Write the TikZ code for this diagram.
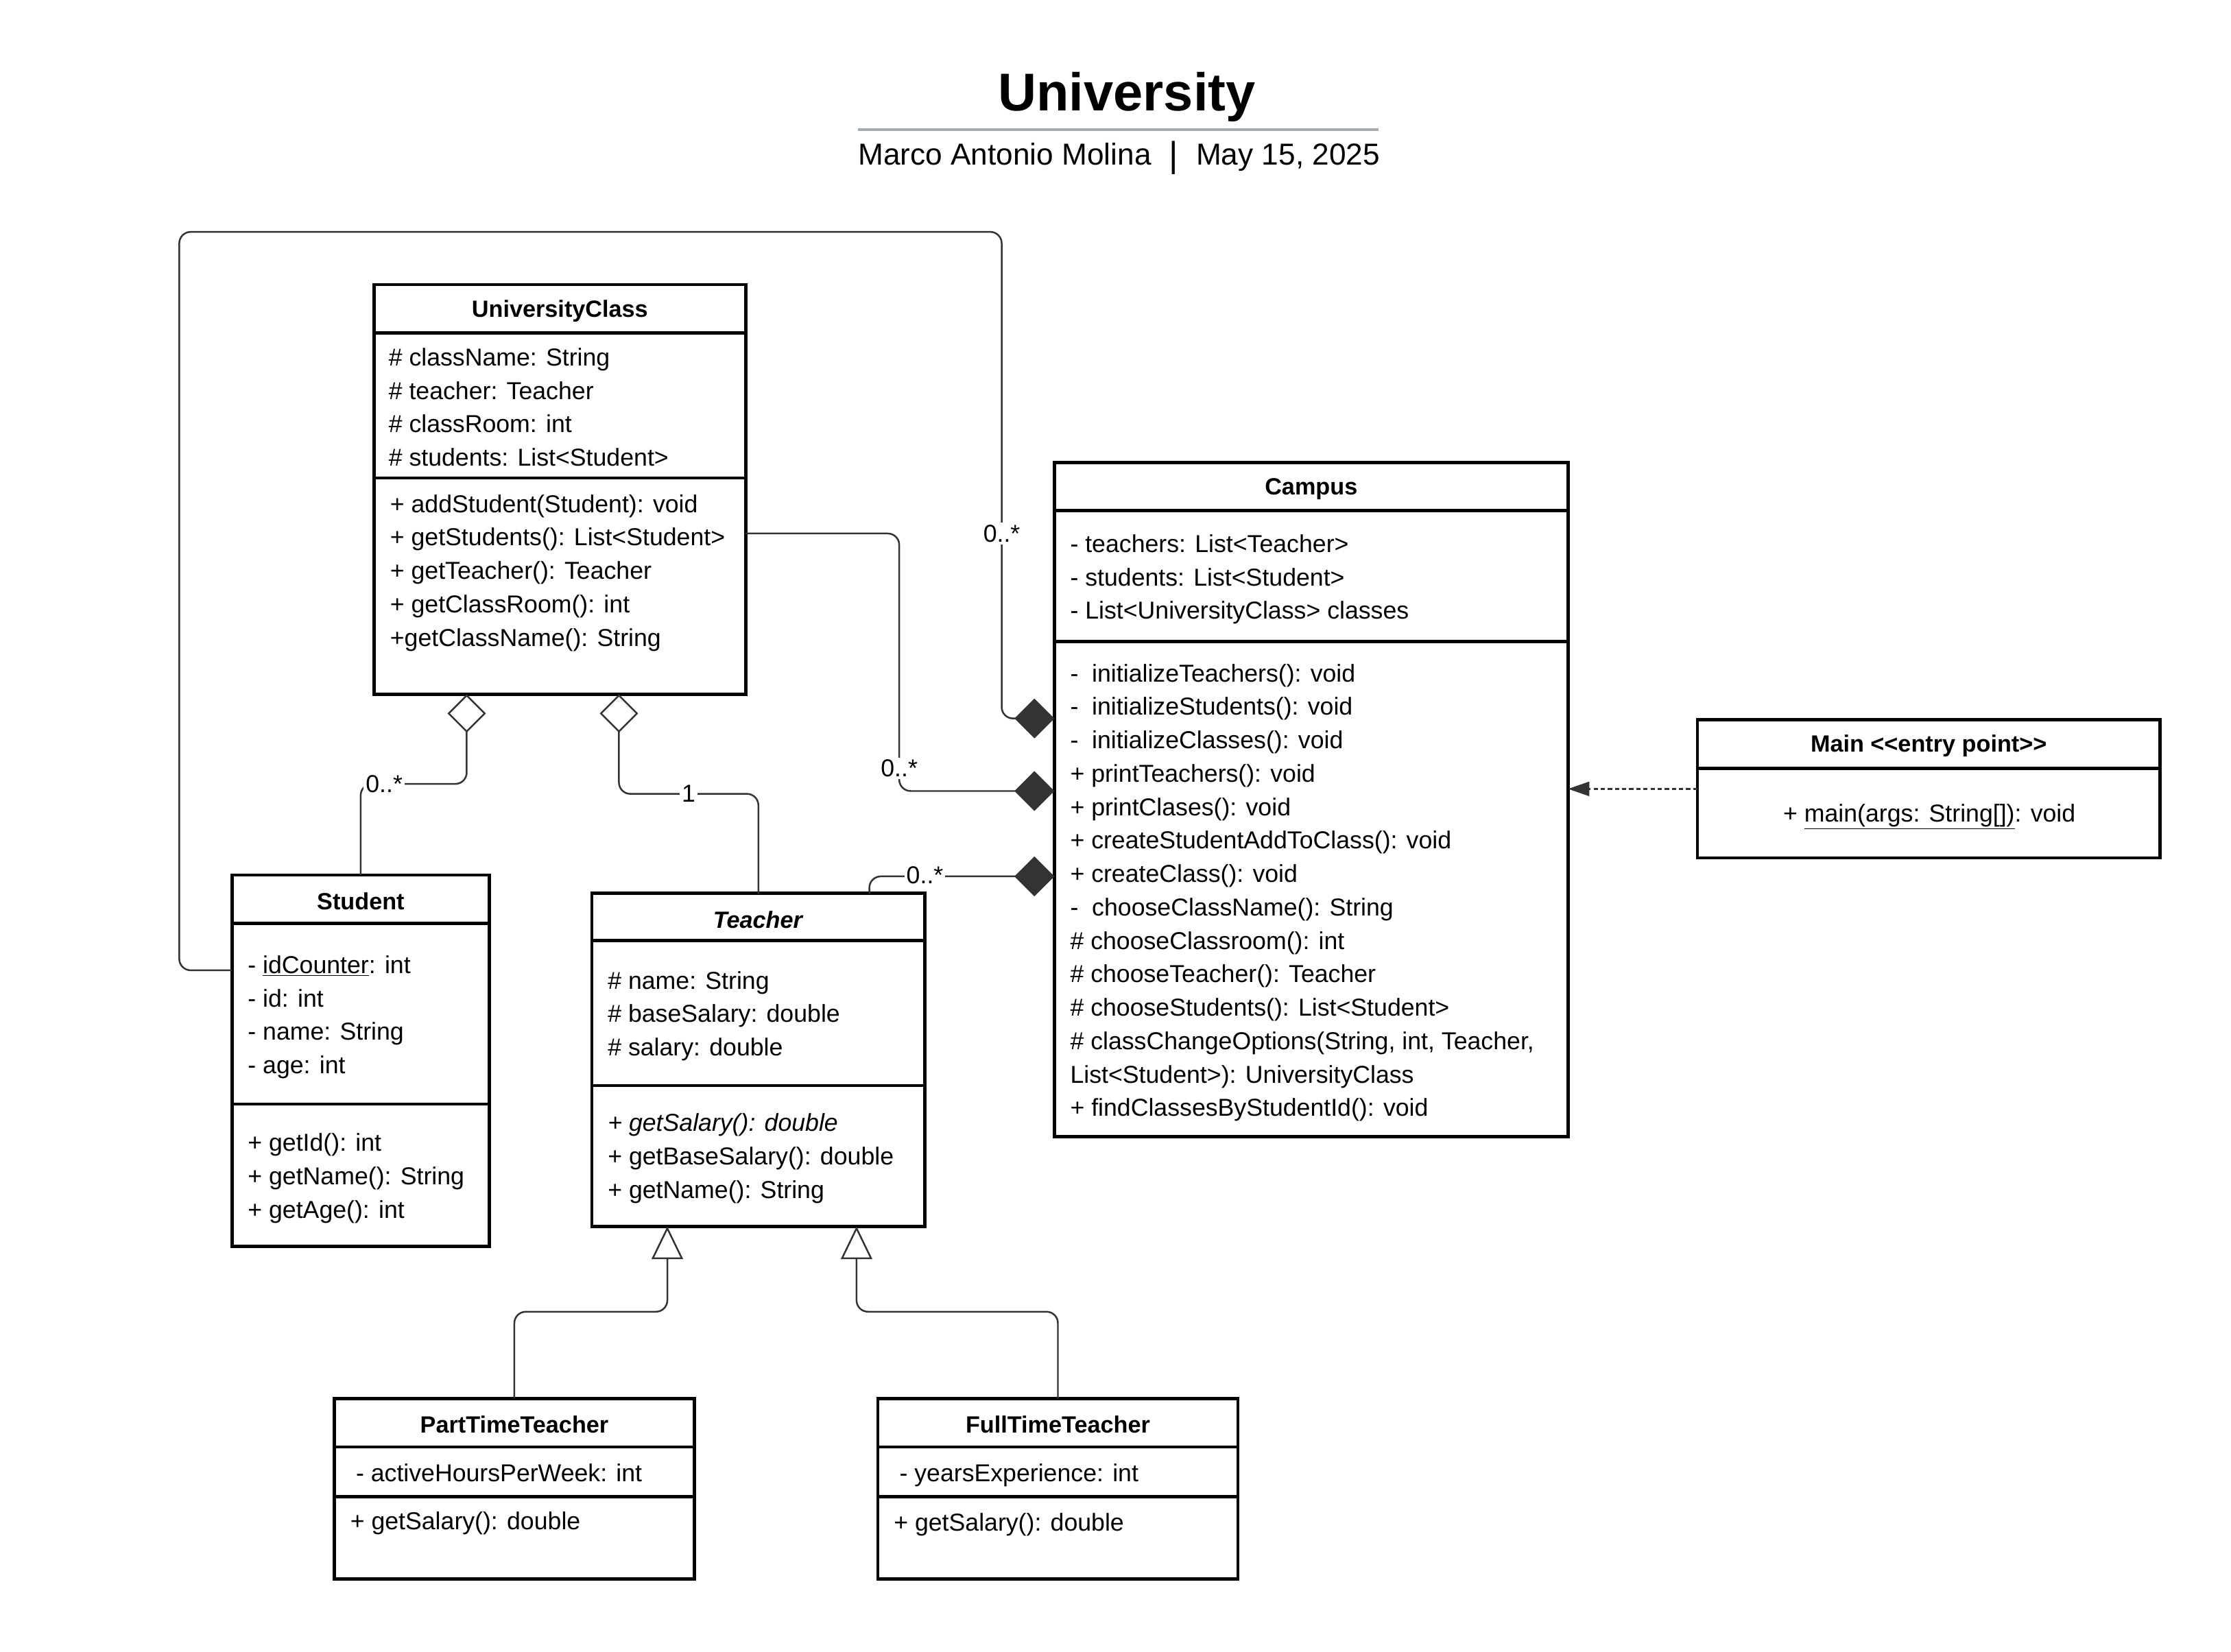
\documentclass[tikz,border=0pt]{standalone}
\usepackage{fontspec}
\setmainfont{Liberation Sans}
\usetikzlibrary{arrows.meta}
\definecolor{linegray}{HTML}{333333}
\definecolor{rulegray}{HTML}{A7ABB2}
\newcommand{\umltext}{\fontsize{17.2}{23.5}\selectfont}
\newcommand{\umlhead}{\fontsize{16.5}{20}\selectfont\bfseries}

\begin{document}
\begin{tikzpicture}[x=1pt, y=-1pt,
  cls/.style={draw, line width=2.3pt, anchor=north west, inner sep=0pt, outer sep=0pt},
  sep/.style={line width=2.3pt},
  hd/.style={font=\umlhead},
  mem/.style={font=\umltext, align=left, anchor=north west, inner sep=0pt},
  mult/.style={font=\umltext, fill=white, inner sep=1.5pt},
  conn/.style={line width=1.2pt, draw=linegray, rounded corners=8pt},
  comp/.style={conn, -{Diamond[linegray, length=28pt, width=28pt]}},
  aggr/.style={conn, -{Diamond[open, length=27pt, width=27pt]}},
  gen/.style={conn, -{Triangle[open, length=23pt, width=22pt]}},
  dep/.style={line width=1.2pt, draw=linegray, dash pattern=on 3pt off 2pt,
    -{Triangle[length=15pt, width=10pt]}}
]
  \path[use as bounding box, fill=white] (0,0) rectangle (1568,1161);

  % title
  \node[font=\fontsize{37.4}{44}\selectfont\bfseries] (ttl) at (792,68) {University};
  \draw[rulegray, line width=2pt] (603,91) -- (969,91);
  \node[font=\fontsize{21.3}{26}\selectfont] (sub) at (786.5,111)
    {Marco Antonio Molina\hspace{12.5pt}\raisebox{-1.5pt}{\fontsize{25}{26}\selectfont|}\hspace{12.5pt}May 15, 2025};

  % UniversityClass
  \node[cls, minimum width=261pt, minimum height=288pt] (uc) at (263,200) {};
  \draw[sep] (uc.west |- 0,234) -- (uc.east |- 0,234);
  \draw[sep] (uc.west |- 0,336) -- (uc.east |- 0,336);
  \node[hd] (ucH) at (393.5,218.5) {UniversityClass};
  \node[mem] (ucA) at (273,240.5) {\strut\# className: String\\\# teacher: Teacher\\
    \# classRoom: int\\\# students: List<Student>};
  \node[mem] (ucM) at (274,343.5) {\strut+ addStudent(Student): void\\+ getStudents(): List<Student>\\
    + getTeacher(): Teacher\\+ getClassRoom(): int\\+getClassName(): String};

  % Campus
  \node[cls, minimum width=361pt, minimum height=474pt] (cam) at (741,325) {};
  \draw[sep] (cam.west |- 0,359) -- (cam.east |- 0,359);
  \draw[sep] (cam.west |- 0,451) -- (cam.east |- 0,451);
  \node[hd] (camH) at (921.5,343.5) {Campus};
  \node[mem] (camA) at (752,371.5) {\strut- teachers: List<Teacher>\\- students: List<Student>\\
    - List<UniversityClass> classes};
  \node[mem] (camM) at (752,462.5) {\strut-\ \ initializeTeachers(): void\\-\ \ initializeStudents(): void\\
    -\ \ initializeClasses(): void\\+ printTeachers(): void\\+ printClases(): void\\
    + createStudentAddToClass(): void\\+ createClass(): void\\-\ \ chooseClassName(): String\\
    \# chooseClassroom(): int\\\# chooseTeacher(): Teacher\\\# chooseStudents(): List<Student>\\
    \# classChangeOptions(String, int, Teacher,\\List<Student>): UniversityClass\\
    + findClassesByStudentId(): void};

  % Main
  \node[cls, minimum width=325pt, minimum height=97pt] (main) at (1193,506) {};
  \draw[sep] (main.west |- 0,540) -- (main.east |- 0,540);
  \node[hd] (mainH) at (1355.5,524.5) {Main <{}<entry point>{}>};
  \node[font=\umltext, inner sep=0pt] (mainM) at (1356,573) {\strut+ \underline{main(args: String[])}: void};

  % Student
  \node[cls, minimum width=181pt, minimum height=261pt] (stu) at (163,615) {};
  \draw[sep] (stu.west |- 0,649) -- (stu.east |- 0,649);
  \draw[sep] (stu.west |- 0,776) -- (stu.east |- 0,776);
  \node[hd] (stuH) at (253.5,633.5) {Student};
  \node[mem] (stuA) at (174,667.5) {\strut- \underline{idCounter}: int\\- id: int\\- name: String\\- age: int};
  \node[mem] (stuM) at (174,792.5) {\strut+ getId(): int\\+ getName(): String\\+ getAge(): int};

  % Teacher
  \node[cls, minimum width=234pt, minimum height=234pt] (tea) at (416,628) {};
  \draw[sep] (tea.west |- 0,661) -- (tea.east |- 0,661);
  \draw[sep] (tea.west |- 0,763) -- (tea.east |- 0,763);
  \node[hd] (teaH) at (533,646.5) {\textit{Teacher}};
  \node[mem] (teaA) at (427,678.5) {\strut\# name: String\\\# baseSalary: double\\\# salary: double};
  \node[mem] (teaM) at (427,778.5) {\strut\textit{+ getSalary(): double}\\+ getBaseSalary(): double\\
    + getName(): String};

  % PartTimeTeacher
  \node[cls, minimum width=253pt, minimum height=127pt] (ptt) at (235,983) {};
  \draw[sep] (ptt.west |- 0,1017) -- (ptt.east |- 0,1017);
  \draw[sep] (ptt.west |- 0,1052) -- (ptt.east |- 0,1052);
  \node[hd] (pttH) at (361.5,1001.5) {PartTimeTeacher};
  \node[mem] (pttA) at (250,1024.5) {\strut- activeHoursPerWeek: int};
  \node[mem] (pttM) at (246,1058.5) {\strut+ getSalary(): double};

  % FullTimeTeacher
  \node[cls, minimum width=253pt, minimum height=127pt] (ftt) at (617,983) {};
  \draw[sep] (ftt.west |- 0,1017) -- (ftt.east |- 0,1017);
  \draw[sep] (ftt.west |- 0,1052) -- (ftt.east |- 0,1052);
  \node[hd] (fttH) at (743.5,1001.5) {FullTimeTeacher};
  \node[mem] (fttA) at (632,1024.5) {\strut- yearsExperience: int};
  \node[mem] (fttM) at (628,1059.5) {\strut+ getSalary(): double};

  % compositions into Campus
  \draw[comp] (stu.west |- 0,682) -| (126,163) -| (704,505) -- (cam.west |- 0,505);
  \draw[comp] (uc.east |- 0,375) -| (632,556) -- (cam.west |- 0,556);
  \draw[comp] ([xshift=-39pt]tea.north east) |- (cam.west |- 0,616);
  \node[mult] (m1) at (704,375) {0..*};
  \node[mult] (m2) at (632,540) {0..*};
  \node[mult] (m3) at (650,615) {0..*};

  % aggregations into UniversityClass
  \draw[aggr] (stu.north) |- (328,551) -- ([xshift=65pt]uc.south west);
  \draw[aggr] (tea.north) |- (435,558) -- ([xshift=172pt]uc.south west);
  \node[mult] (m4) at (270,551) {0..*};
  \node[mult] (m5) at (484,558) {1};

  % generalizations
  \draw[gen] (ptt.north) |- (469,922) -- ([xshift=53pt]tea.south west);
  \draw[gen] (ftt.north) |- (602,922) -- ([xshift=186pt]tea.south west);

  % dependency
  \draw[dep] (main.west) -- (cam.east |- main.west);
\end{tikzpicture}
\end{document}
